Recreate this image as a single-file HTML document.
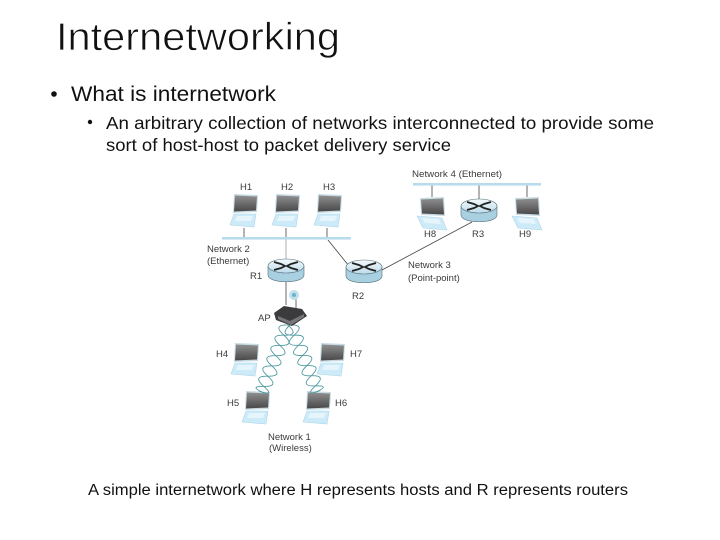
<!DOCTYPE html>
<html><head><meta charset="utf-8"><style>
html,body{margin:0;padding:0;background:#fff}
svg{display:block}
text{font-family:"Liberation Sans",sans-serif}
.t{fill:#111}
.d{font-size:9.5px;fill:#3a3a3a}
</style></head><body>
<svg width="720" height="540" viewBox="0 0 720 540" xmlns="http://www.w3.org/2000/svg">
<defs>
<filter id="soft" x="-5%" y="-5%" width="110%" height="110%"><feGaussianBlur stdDeviation="0.3"/></filter>
<linearGradient id="scr" x1="0" y1="0" x2="0" y2="1"><stop offset="0" stop-color="#8f8f8f"/><stop offset="1" stop-color="#484848"/></linearGradient>
<linearGradient id="rt" x1="0" y1="0" x2="0" y2="1"><stop offset="0" stop-color="#f4f9fb"/><stop offset="1" stop-color="#bcdcea"/></linearGradient>
<g id="lap">
<polygon points="3,0 27,1 26,18 2,19" fill="#c8dbe4"/>
<polygon points="4,1.5 26,2.5 25,16.5 3,17.5" fill="url(#scr)"/>
<polygon points="3,20 25,20 23,33 -1,31" fill="#cdeaf8" stroke="#aed7ea" stroke-width=".6"/>
<polygon points="6,22 22,22 20,27 4,27" fill="#e6f5fc"/>
</g>
<g id="lapR">
<polygon points="0,1 24,0 25,19 1,18" fill="#c8dbe4"/>
<polygon points="1,2.5 23,1.5 24,17.5 2,16.5" fill="url(#scr)"/>
<polygon points="-3,19 22,21 27,33 3,31" fill="#cdeaf8" stroke="#aed7ea" stroke-width=".6"/>
<polygon points="2,21 19,22 21,27 5,26" fill="#e6f5fc"/>
</g>
<g id="rtr">
<path d="M-18,-4 V5 C-18,14 18,14 18,5 V-4 Z" fill="#a9d0e0" stroke="#55707c" stroke-width=".6"/>
<ellipse cx="0" cy="-4" rx="18" ry="7" fill="url(#rt)" stroke="#55707c" stroke-width=".6"/>
<path d="M-12,-8 L-5,-6 L-1,-4 L-5,-2 L-12,0 M12,-8 L5,-6 L1,-4 L5,-2 L12,0" fill="none" stroke="#222" stroke-width="1.8"/>
</g>
<g id="helix" fill="none" stroke="#4f9aa0" stroke-width=".9">
<path d="M0,0 Q5.5,-15 11,0 T22,0 T33,0 T44,0 T55,0 T66,0 T72,3"/>
<path d="M0,0 Q5.5,15 11,0 T22,0 T33,0 T44,0 T55,0 T66,0 T72,-3"/>
</g>
</defs>

<text class="t" x="56" y="50" font-size="39" textLength="284" lengthAdjust="spacingAndGlyphs" stroke="#fff" stroke-width=".7">Internetworking</text>
<circle cx="54" cy="94" r="2.8" fill="#111"/>
<text class="t" x="71" y="101" font-size="21" textLength="205" lengthAdjust="spacingAndGlyphs">What is internetwork</text>
<circle cx="90" cy="122" r="2.2" fill="#111"/>
<text class="t" x="106" y="129" font-size="17.5" textLength="548" lengthAdjust="spacingAndGlyphs">An arbitrary collection of networks interconnected to provide some</text>
<text class="t" x="106" y="151" font-size="17.5" textLength="345" lengthAdjust="spacingAndGlyphs">sort of host-host to packet delivery service</text>
<text class="t" x="88" y="495" font-size="15.5" textLength="540" lengthAdjust="spacingAndGlyphs">A simple internetwork where H represents hosts and R represents routers</text>

<g filter="url(#soft)">
<!-- Connectors -->
<g stroke="#444" stroke-width=".8" fill="none">
<path d="M244,228V238M286,228V238M327,228V238"/>
<path d="M286,238V260" stroke="#999"/>
<path d="M286,280V305M296,298V310"/>
<path d="M328,240L349,266"/>
<path d="M382,270L472,222"/>
<path d="M432,185V197M479,185V201M527,185V197"/>
</g>
<rect x="222" y="237" width="129" height="2.6" fill="#b9dcec"/>
<rect x="413" y="183" width="128" height="2.6" fill="#b9dcec"/>

<!-- Laptops -->
<use href="#lap" x="231" y="194"/>
<use href="#lap" x="273" y="194"/>
<use href="#lap" x="315" y="194"/>
<use href="#lapR" x="420" y="197"/>
<use href="#lapR" x="515" y="197"/>
<use href="#lap" x="232" y="343"/>
<use href="#lap" x="318" y="343"/>
<use href="#lap" x="243" y="391"/>
<use href="#lap" x="304" y="391"/>

<!-- Routers -->
<use href="#rtr" x="286" y="270"/>
<use href="#rtr" x="364" y="271"/>
<use href="#rtr" x="479" y="210"/>

<!-- Wireless helix -->
<use href="#helix" transform="translate(288,325) rotate(111.5)"/>
<use href="#helix" transform="translate(290,325) rotate(67.4)"/>

<!-- AP -->
<circle cx="294" cy="295" r="5" fill="#bfe0ec"/>
<circle cx="294" cy="295" r="2" fill="#6fb2ca"/>
<polygon points="274,313 284,306 302,309 307,316 292,326 276,320" fill="#3a3a3c"/>
<polygon points="278,316 290,321 304,314 304,317 291,325 278,319" fill="#77777a"/>

<!-- Labels -->
<text class="d" x="240" y="190">H1</text>
<text class="d" x="281" y="190">H2</text>
<text class="d" x="323" y="190">H3</text>
<text class="d" x="412" y="177" textLength="90" lengthAdjust="spacingAndGlyphs">Network 4 (Ethernet)</text>
<text class="d" x="424" y="237">H8</text>
<text class="d" x="472" y="237">R3</text>
<text class="d" x="519" y="237">H9</text>
<text class="d" x="207" y="252">Network 2</text>
<text class="d" x="207" y="264">(Ethernet)</text>
<text class="d" x="250" y="279">R1</text>
<text class="d" x="352" y="299">R2</text>
<text class="d" x="408" y="268">Network 3</text>
<text class="d" x="408" y="281">(Point-point)</text>
<text class="d" x="258" y="321">AP</text>
<text class="d" x="216" y="357">H4</text>
<text class="d" x="350" y="357">H7</text>
<text class="d" x="227" y="406">H5</text>
<text class="d" x="335" y="406">H6</text>
<text class="d" x="268" y="440">Network 1</text>
<text class="d" x="269" y="451">(Wireless)</text>
</g>
</svg>
</body></html>
